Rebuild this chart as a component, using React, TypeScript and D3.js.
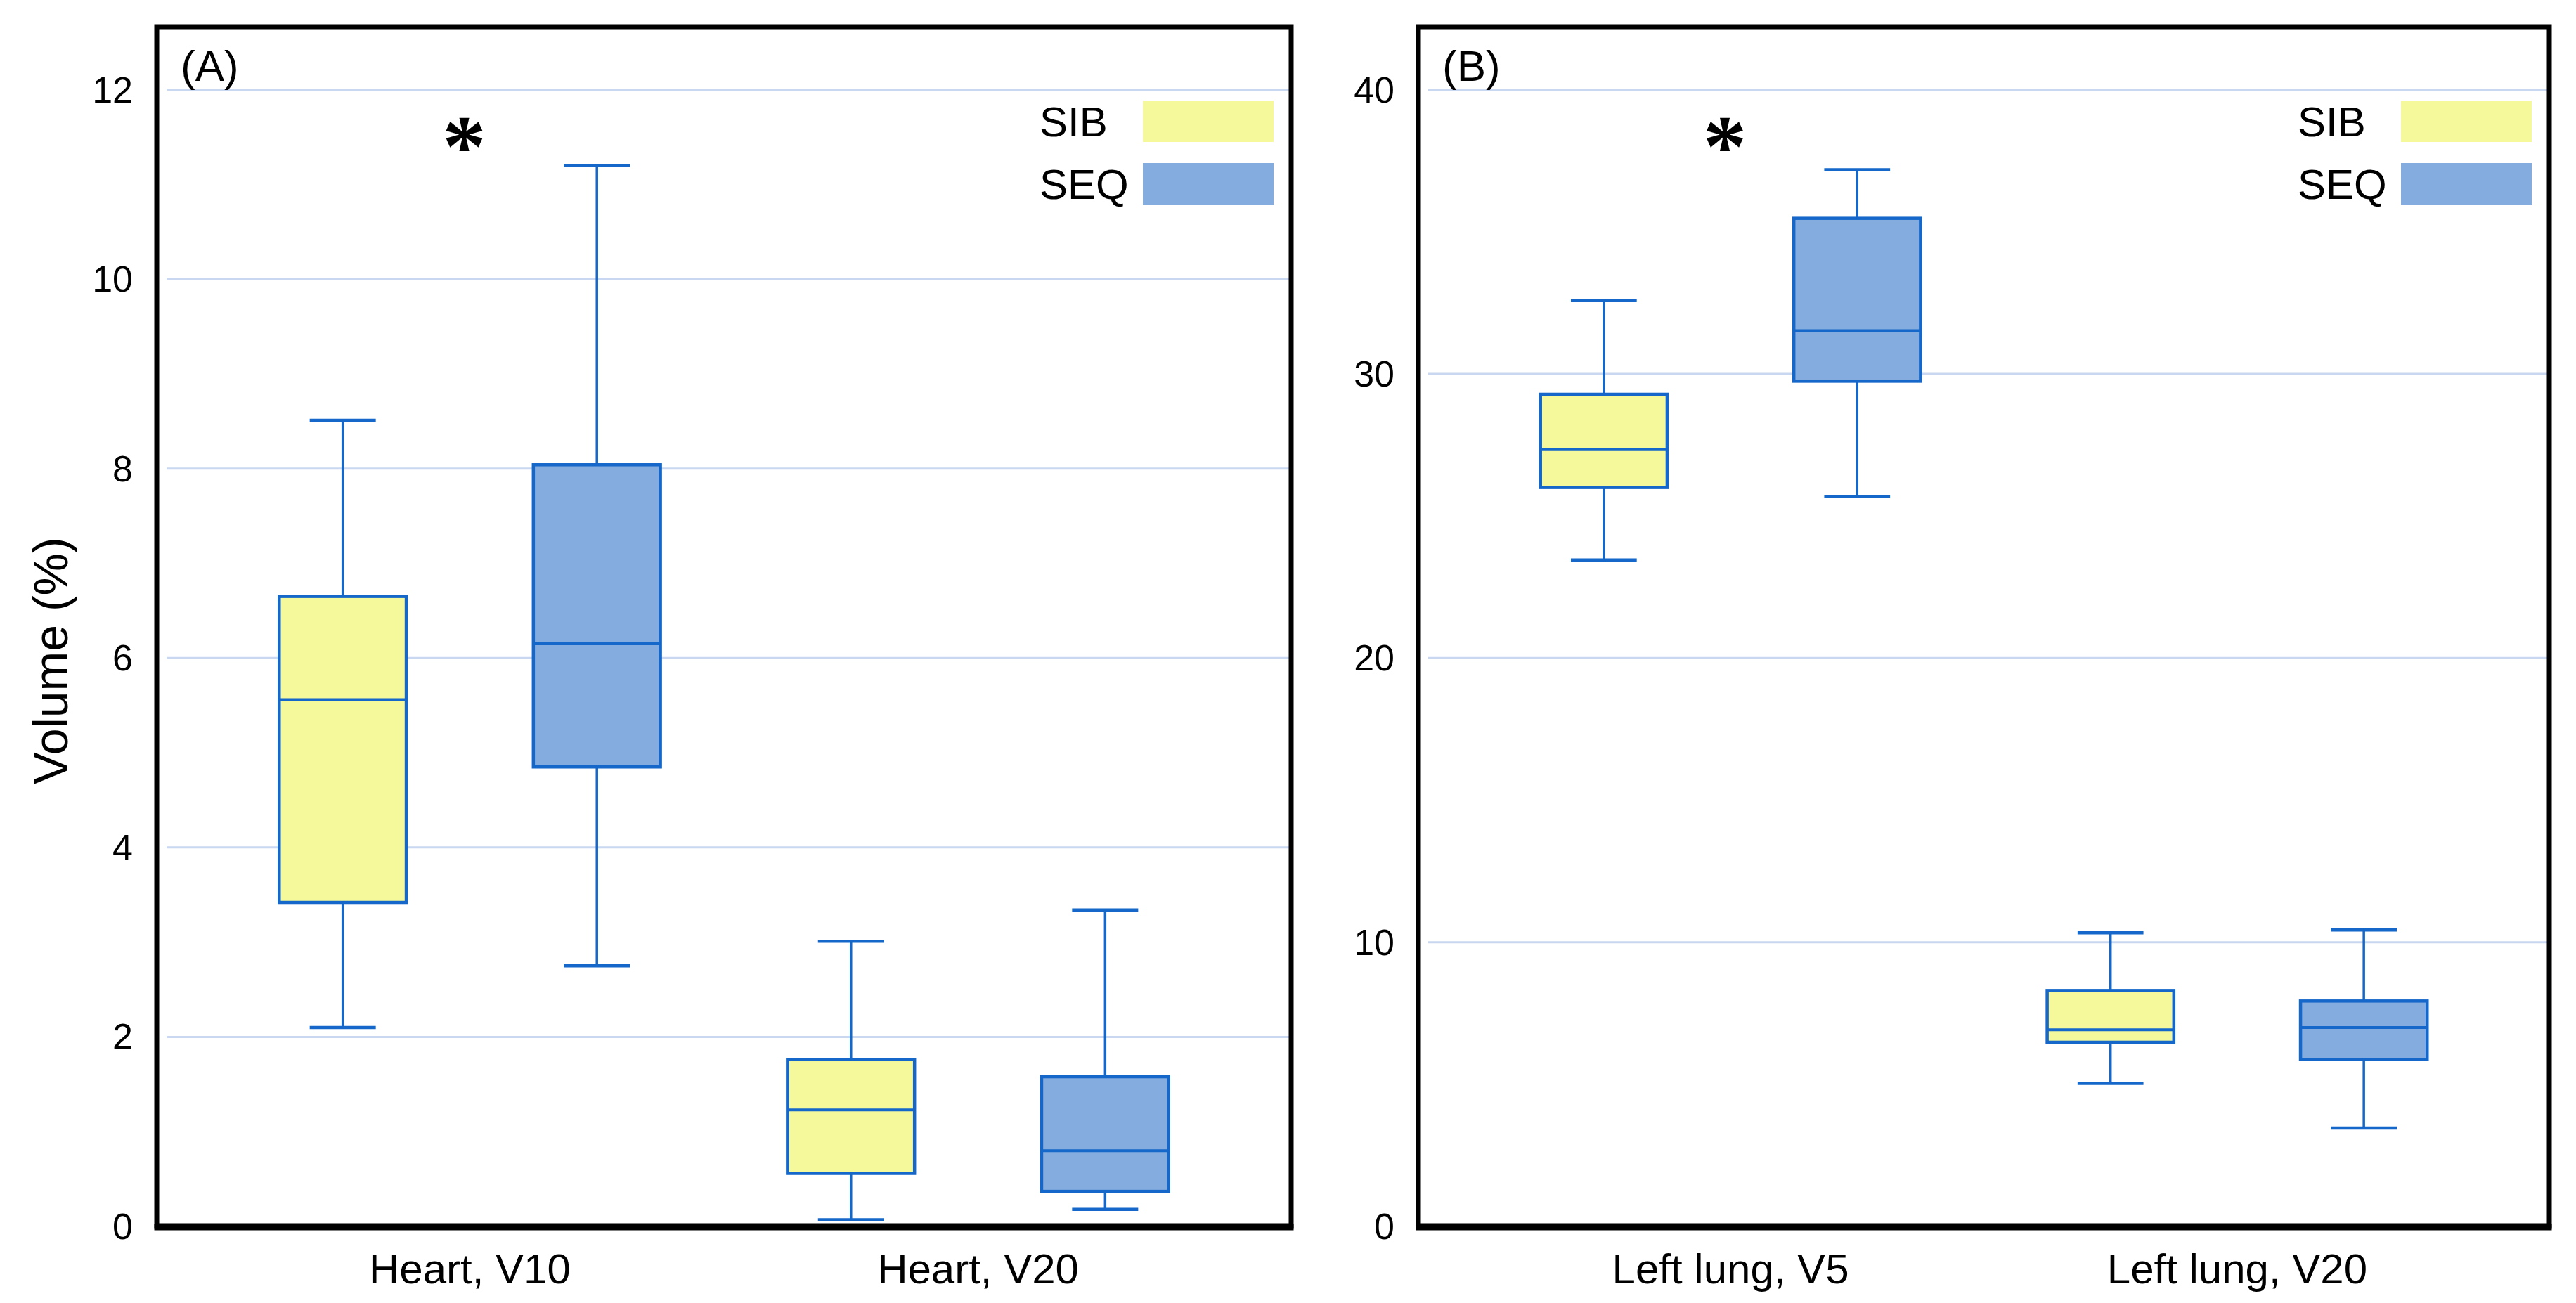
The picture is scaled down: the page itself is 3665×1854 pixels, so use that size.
import { useEffect, useRef } from 'react';
import * as d3 from 'd3';

// Box plots: volume (%) of heart / left lung receiving V-dose, SIB vs SEQ
const series = ['SIB', 'SEQ'];
const heartCategories = ['Heart, V10', 'Heart, V20'];
const lungCategories = ['Left lung, V5', 'Left lung, V20'];

// five-number summaries: [min, q1, median, q3, max]
const heartSIB = [[2.1, 3.42, 5.56, 6.65, 8.51], [0.07, 0.56, 1.23, 1.76, 3.01]];
const heartSEQ = [[2.75, 4.85, 6.15, 8.04, 11.2], [0.18, 0.37, 0.8, 1.58, 3.34]];
const lungSIB = [[23.45, 26.0, 27.33, 29.28, 32.59], [5.03, 6.48, 6.92, 8.3, 10.33]];
const lungSEQ = [[25.68, 29.74, 31.52, 35.47, 37.18], [3.46, 5.87, 7.0, 7.93, 10.43]];

const heartTicks = [0, 2, 4, 6, 8, 10, 12];
const lungTicks = [0, 10, 20, 30, 40];

// categories with a significant difference (*)
const heartSignificant = ['Heart, V10'];
const lungSignificant = ['Left lung, V5'];

const FONT = '"Liberation Sans", Arial, sans-serif';
const FILL: Record<string, string> = { SIB: '#f5f99b', SEQ: '#85acdf' };
const STROKE = '#1567c9';
const GRID = '#c9d8f0';

interface PanelOpts {
  left: number;
  right: number;
  label: string;
  categories: string[];
  sib: number[][];
  seq: number[][];
  ticks: number[];
  significant: string[];
}

function drawPanel(svg: d3.Selection<SVGSVGElement, unknown, null, undefined>, o: PanelOpts) {
  const top = 38;
  const bottom = 1744;
  const g = svg.append('g');

  const y = d3.scaleLinear()
    .domain([0, o.ticks[o.ticks.length - 1]])
    .range([1745, 127.5]);

  const x = d3.scalePoint<string>()
    .domain(o.categories)
    .range([o.left, o.right])
    .padding(0.616);
  const step = x.step();

  const sub = d3.scaleBand<string>()
    .domain(series)
    .range([-step / 2, step / 2]);
  const bw = sub.bandwidth() * 0.5;
  const capW = sub.bandwidth() * 0.26;

  // grid
  g.append('g')
    .selectAll('line')
    .data(o.ticks.filter((t) => t > 0))
    .enter().append('line')
    .attr('x1', o.left + 14)
    .attr('x2', o.right - 3)
    .attr('y1', (d) => y(d))
    .attr('y2', (d) => y(d))
    .attr('stroke', GRID)
    .attr('stroke-width', 3);

  // y tick labels
  g.append('g')
    .selectAll('text')
    .data(o.ticks)
    .enter().append('text')
    .attr('x', o.left - 34)
    .attr('y', (d) => y(d))
    .attr('text-anchor', 'end')
    .attr('dominant-baseline', 'central')
    .attr('font-family', FONT)
    .attr('font-size', 52)
    .attr('fill', '#000')
    .text((d) => String(d));

  // boxes
  const rows = o.categories.flatMap((c, i) => [
    { cat: c, s: 'SIB', v: o.sib[i] },
    { cat: c, s: 'SEQ', v: o.seq[i] },
  ]);

  const box = g.selectAll('.box')
    .data(rows)
    .enter().append('g')
    .attr('class', 'box')
    .attr('transform', (d) => `translate(${(x(d.cat) ?? 0) + (sub(d.s) ?? 0) + sub.bandwidth() / 2},0)`);

  box.append('line')
    .attr('x1', 0).attr('x2', 0)
    .attr('y1', (d) => y(d.v[0]))
    .attr('y2', (d) => y(d.v[4]))
    .attr('stroke', STROKE)
    .attr('stroke-width', 3.5);

  box.append('line')
    .attr('x1', -capW / 2).attr('x2', capW / 2)
    .attr('y1', (d) => y(d.v[4])).attr('y2', (d) => y(d.v[4]))
    .attr('stroke', STROKE)
    .attr('stroke-width', 4.5);

  box.append('line')
    .attr('x1', -capW / 2).attr('x2', capW / 2)
    .attr('y1', (d) => y(d.v[0])).attr('y2', (d) => y(d.v[0]))
    .attr('stroke', STROKE)
    .attr('stroke-width', 4.5);

  box.append('rect')
    .attr('x', -bw / 2)
    .attr('width', bw)
    .attr('y', (d) => y(d.v[3]))
    .attr('height', (d) => y(d.v[1]) - y(d.v[3]))
    .attr('fill', (d) => FILL[d.s])
    .attr('stroke', STROKE)
    .attr('stroke-width', 4.5);

  box.append('line')
    .attr('x1', -bw / 2).attr('x2', bw / 2)
    .attr('y1', (d) => y(d.v[2])).attr('y2', (d) => y(d.v[2]))
    .attr('stroke', STROKE)
    .attr('stroke-width', 4);

  // significance markers
  g.selectAll('.star')
    .data(o.significant)
    .enter().append('text')
    .attr('class', 'star')
    .attr('x', (d) => (x(d) ?? 0) - 8)
    .attr('y', 250)
    .attr('text-anchor', 'middle')
    .attr('font-family', '"Liberation Serif", "Times New Roman", serif')
    .attr('font-weight', 'bold')
    .attr('font-size', 124)
    .attr('fill', '#000')
    .text('*');

  // legend
  const legend = g.append('g')
    .selectAll('g')
    .data(series)
    .enter().append('g')
    .attr('transform', (_, i) => `translate(${o.right - 211},${143 + i * 89})`);
  legend.append('rect')
    .attr('width', 186)
    .attr('height', 59)
    .attr('fill', (d) => FILL[d]);
  legend.append('text')
    .attr('x', -147)
    .attr('y', 30)
    .attr('dominant-baseline', 'central')
    .attr('font-family', FONT)
    .attr('font-size', 60)
    .attr('fill', '#000')
    .text((d) => d);

  // panel label
  g.append('text')
    .attr('x', o.left + 34)
    .attr('y', 115)
    .attr('font-family', FONT)
    .attr('font-size', 62)
    .attr('fill', '#000')
    .text(o.label);

  // category labels
  g.append('g')
    .selectAll('text')
    .data(o.categories)
    .enter().append('text')
    .attr('x', (d) => x(d) ?? 0)
    .attr('y', 1826)
    .attr('text-anchor', 'middle')
    .attr('font-family', FONT)
    .attr('font-size', 60)
    .attr('fill', '#000')
    .text((d) => d);

  // frame (bottom edge a bit heavier, like the original)
  g.append('rect')
    .attr('x', o.left)
    .attr('y', top)
    .attr('width', o.right - o.left)
    .attr('height', bottom - top)
    .attr('fill', 'none')
    .attr('stroke', '#000')
    .attr('stroke-width', 7);
  g.append('line')
    .attr('x1', o.left - 3.5)
    .attr('x2', o.right + 3.5)
    .attr('y1', bottom + 2)
    .attr('y2', bottom + 2)
    .attr('stroke', '#000')
    .attr('stroke-width', 9);
}

export default function App() {
  const svgRef = useRef<SVGSVGElement>(null);

  useEffect(() => {
    if (!svgRef.current) return;
    const svg = d3.select(svgRef.current);
    svg.selectAll('*').remove();

    drawPanel(svg, {
      left: 223, right: 1837, label: '(A)',
      categories: heartCategories, sib: heartSIB, seq: heartSEQ,
      ticks: heartTicks, significant: heartSignificant,
    });
    drawPanel(svg, {
      left: 2018, right: 3627, label: '(B)',
      categories: lungCategories, sib: lungSIB, seq: lungSEQ,
      ticks: lungTicks, significant: lungSignificant,
    });

    svg.append('text')
      .attr('transform', 'translate(72,940) rotate(-90)')
      .attr('text-anchor', 'middle')
      .attr('dominant-baseline', 'central')
      .attr('font-family', FONT)
      .attr('font-size', 68)
      .attr('fill', '#000')
      .text('Volume (%)');
  }, []);

  return (
    <div style={{ position: 'absolute', left: 0, top: 0, background: '#fff' }}>
      <svg ref={svgRef} width={3665} height={1854} style={{ display: 'block' }} />
    </div>
  );
}
